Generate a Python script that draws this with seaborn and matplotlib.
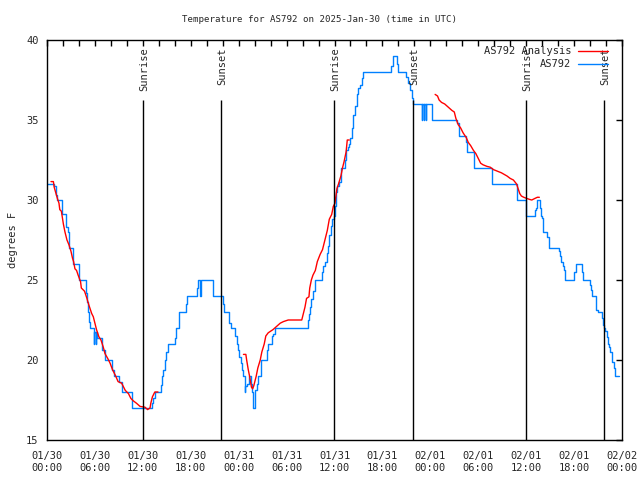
import matplotlib
matplotlib.use('Agg')
import pandas as pd
import matplotlib.pyplot as plt
from matplotlib.lines import Line2D
import seaborn as sns

# Observed temperature (hours since 01/30 00:00 UTC, deg F) - step data
obs_hours = [0.0, 0.9, 1.1, 1.2, 1.84, 2.34, 2.6, 2.8, 3.3, 4.0, 4.85, 4.97, 5.1,
             5.25, 5.4, 5.85, 5.9, 6.1, 6.15, 6.3, 6.85, 7.2, 8.2, 8.35, 9.0, 9.35,
             10.7, 13.1, 13.3, 13.5, 14.24, 14.36, 14.49, 14.78, 14.9, 15.2, 15.3,
             16.0, 16.15, 16.57, 17.4, 17.57, 18.74, 18.85, 19.2, 19.3, 20.75, 22.0,
             22.15, 22.75, 23.0, 23.5, 23.75, 23.9, 24.1, 24.25, 24.4, 24.5, 24.8,
             24.85, 25.0, 25.25, 25.5, 25.67, 25.76, 26.0, 26.1, 26.26, 26.4, 26.76,
             27.5, 27.67, 28.2, 28.3, 28.6, 32.7, 32.8, 32.9, 33.1, 33.3, 33.56,
             34.4, 34.6, 34.85, 35.0, 35.2, 35.35, 35.5, 35.7, 35.9, 36.0, 36.2,
             36.35, 36.6, 36.8, 37.3, 37.5, 37.7, 37.85, 38.0, 38.15, 38.35, 38.57,
             38.8, 39.0, 39.2, 39.4, 39.6, 43.1, 43.3, 43.8, 44.0, 45.0, 45.25,
             45.45, 45.7, 45.8, 46.9, 46.95, 47.15, 47.2, 47.4, 47.45, 48.2, 51.4,
             51.6, 52.5, 52.55, 53.5, 55.7, 58.9, 60.0, 61.1, 61.2, 61.3, 61.7,
             61.8, 61.95, 62.1, 62.15, 62.65, 62.8, 62.9, 64.15, 64.2, 64.4, 64.6,
             64.7, 64.9, 66.0, 66.25, 67.0, 67.15, 68.0, 68.1, 68.2, 68.7, 68.8,
             68.95, 69.5, 69.6, 69.75, 69.9, 70.1, 70.2, 70.4, 70.5, 70.7, 70.8,
             71.0, 71.1, 71.65]
obs_temp = [31.0, 30.9, 30.3, 30.0, 29.1, 28.3, 28.0, 27.0, 26.0, 25.0, 24.2, 23.6, 23.0,
            22.4, 22.0, 21.0, 21.75, 21.0, 21.75, 21.4, 20.6, 20.0, 19.4, 19.0, 18.6, 18.0,
            17.0, 17.3, 17.6, 18.0, 18.44, 19.0, 19.4, 20.0, 20.5, 21.0, 21.0,
            21.35, 22.0, 23.0, 23.5, 24.0, 24.5, 25.0, 24.0, 25.0, 24.0, 23.5,
            23.0, 22.3, 22.0, 21.5, 21.0, 20.6, 20.2, 19.8, 19.4, 19.0, 18.0,
            18.4, 18.5, 19.0, 18.5, 18.0, 17.0, 17.5, 18.1, 18.5, 19.0, 20.0,
            20.6, 21.0, 21.5, 21.6, 22.0, 22.5, 22.9, 23.3, 23.8, 24.3, 25.0,
            25.5, 25.9, 26.1, 26.7, 27.1, 27.8, 28.4, 28.8, 29.0, 29.6, 30.5,
            30.9, 31.1, 32.0, 32.5, 33.1, 33.3, 33.5, 33.9, 34.5, 35.3, 35.9,
            36.6, 37.0, 37.2, 37.6, 38.0, 38.4, 39.0, 38.5, 38.0, 37.7, 37.3,
            36.9, 36.4, 36.0, 35.0, 36.0, 35.0, 36.0, 35.0, 36.0, 35.0, 34.8,
            34.0, 33.6, 33.0, 32.0, 31.0, 30.0, 29.0, 29.4, 29.5, 30.0, 29.5,
            29.0, 28.9, 28.3, 28.0, 27.7, 27.4, 27.0, 26.8, 26.5, 26.1, 25.9,
            25.6, 25.0, 25.5, 26.0, 25.5, 25.0, 24.7, 24.4, 24.0, 23.5, 23.1,
            23.0, 22.6, 22.2, 22.0, 21.8, 21.45, 21.0, 20.8, 20.5, 20.1, 19.9,
            19.5, 19.0, 19.0]

# Analysis temperature, three separate pieces
ana_hours_1 = [0.5, 0.8, 0.9, 1.3, 1.5, 1.6, 1.8, 2.05, 2.25, 2.5, 2.75, 3.0, 3.2, 3.33,
               3.5, 3.7, 3.9, 4.2, 4.3, 4.7, 5.0, 5.2, 5.4, 5.6, 5.8, 6.0, 6.2, 6.5,
               6.76, 7.05, 7.26, 7.6, 7.9, 8.2, 8.6, 8.9, 9.35, 9.8, 10.2, 10.5, 10.8,
               11.2, 11.65, 12.27, 12.6, 12.9, 13.0, 13.2, 13.5, 13.9]
ana_temp_1 = [31.15, 31.15, 30.8, 30.1, 29.8, 29.4, 29.3, 28.5, 28.0, 27.5, 27.2, 26.8, 26.35, 26.15,
              25.7, 25.6, 25.3, 24.9, 24.5, 24.3, 23.85, 23.5, 23.2, 22.9, 22.7, 22.3, 21.9, 21.45,
              21.25, 20.8, 20.4, 20.1, 19.8, 19.4, 19.0, 18.65, 18.55, 18.1, 17.9, 17.6, 17.45,
              17.3, 17.1, 17.05, 16.9, 17.0, 17.3, 17.7, 18.0, 18.0]
ana_hours_2 = [24.6, 24.9, 25.0, 25.2, 25.4, 25.6, 25.75, 25.9, 26.2, 26.4, 26.7, 26.9, 27.2,
               27.4, 27.7, 28.0, 28.3, 28.75, 29.2, 29.6, 30.2, 31.9, 32.1, 32.3, 32.5, 32.8,
               32.9, 33.1, 33.3, 33.6, 33.85, 34.2, 34.5, 34.8, 35.1, 35.35, 35.65, 35.85,
               36.06, 36.3, 36.5, 36.8, 37.0, 37.2, 37.45, 37.6, 37.85]
ana_temp_2 = [20.35, 20.35, 20.0, 19.4, 18.9, 18.3, 18.2, 18.4, 19.0, 19.5, 20.0, 20.5, 21.0,
              21.5, 21.7, 21.8, 21.9, 22.1, 22.3, 22.4, 22.5, 22.5, 22.9, 23.3, 23.85, 23.95,
              24.5, 25.0, 25.3, 25.6, 26.15, 26.6, 26.9, 27.5, 28.1, 28.8, 29.1, 29.6,
              29.8, 30.7, 31.0, 31.5, 32.0, 32.4, 33.0, 33.75, 33.75]
ana_hours_3 = [48.6, 48.9, 49.1, 49.4, 49.8, 50.25, 50.7, 51.0, 51.2, 51.5, 51.8, 52.1, 52.5,
               52.75, 53.05, 53.4, 53.7, 54.0, 54.3, 54.6, 55.1, 55.5, 55.9, 56.4, 56.9,
               57.6, 58.0, 58.4, 58.8, 59.0, 59.2, 59.4, 59.7, 60.07, 60.4, 60.7, 61.1,
               61.4, 61.65]
ana_temp_3 = [36.6, 36.5, 36.25, 36.1, 36.0, 35.8, 35.6, 35.5, 35.1, 34.7, 34.5, 34.2, 33.9,
              33.6, 33.4, 33.1, 32.9, 32.6, 32.3, 32.2, 32.1, 32.05, 31.9, 31.8, 31.7,
              31.5, 31.35, 31.25, 31.0, 30.7, 30.4, 30.25, 30.17, 30.1, 30.04, 30.0, 30.1,
              30.17, 30.17]

sun_hours = [12.02, 21.79, 35.94, 45.83, 59.98, 69.75]
sun_labels = ['Sunrise', 'Sunset', 'Sunrise', 'Sunset', 'Sunrise', 'Sunset']

tick_hours = list(range(0, 73, 6))
tick_dates = ['01/30'] * 4 + ['01/31'] * 4 + ['02/01'] * 4 + ['02/02']
tick_times = ['00:00', '06:00', '12:00', '18:00'] * 3 + ['00:00']

BLUE = '#0080ff'
RED = '#ff0000'

sns.set_style('white')
plt.rcParams['font.family'] = ['DejaVu Sans Mono']

fig, ax = plt.subplots(figsize=(6.4, 4.8), dpi=100)
fig.subplots_adjust(left=47 / 640, right=622 / 640, bottom=40 / 480, top=440 / 480)

obs = pd.DataFrame({'hour': obs_hours, 'temp': obs_temp})
sns.lineplot(data=obs, x='hour', y='temp', color=BLUE, lw=1.0,
             drawstyle='steps-post', estimator=None, ax=ax)

for hrs, tmp in [(ana_hours_1, ana_temp_1), (ana_hours_2, ana_temp_2),
                 (ana_hours_3, ana_temp_3)]:
    sns.lineplot(x=hrs, y=tmp, color=RED, lw=1.0, estimator=None, ax=ax)

# sunrise / sunset markers
ax.vlines(sun_hours, 15, 36.25, color='black', lw=1.0)
for h, lab in zip(sun_hours, sun_labels):
    ax.text(h + 0.2, 39.55, lab, rotation=90, ha='center', va='top', fontsize=7.5)

ax.set_xlim(0, 72)
ax.set_ylim(15, 40)
ax.set_xticks(tick_hours)
ax.set_xticklabels([d + '\n' + t for d, t in zip(tick_dates, tick_times)], fontsize=7.5)
ax.set_xticks(range(0, 73, 2), minor=True)
ax.set_yticks(range(15, 41, 5))
ax.tick_params(axis='y', labelsize=7.5, labelleft=True, labelright=False, pad=6)
ax.tick_params(axis='x', pad=8)
ax.tick_params(which='both', direction='in', length=4, width=1,
               top=True, right=True, color='black')
for sp in ax.spines.values():
    sp.set_color('black')
    sp.set_linewidth(1.0)

ax.set_xlabel('')
ax.set_ylabel('degrees F', fontsize=7.5, labelpad=6)
fig.text(319 / 640, 1 - 20 / 480, 'Temperature for AS792 on 2025-Jan-30 (time in UTC)',
         fontsize=6.6, ha='center', va='center')

handles = [Line2D([], [], color=RED, lw=1.0), Line2D([], [], color=BLUE, lw=1.0)]
ax.legend(handles, ['AS792 Analysis', 'AS792'], loc='upper right', frameon=False,
          markerfirst=False, fontsize=7.5, handlelength=2.9, handletextpad=0.6,
          labelspacing=0.3, borderaxespad=0.2, bbox_to_anchor=(1.0 - 8 / 575, 1.0))

fig.savefig('out.png', dpi=100)
